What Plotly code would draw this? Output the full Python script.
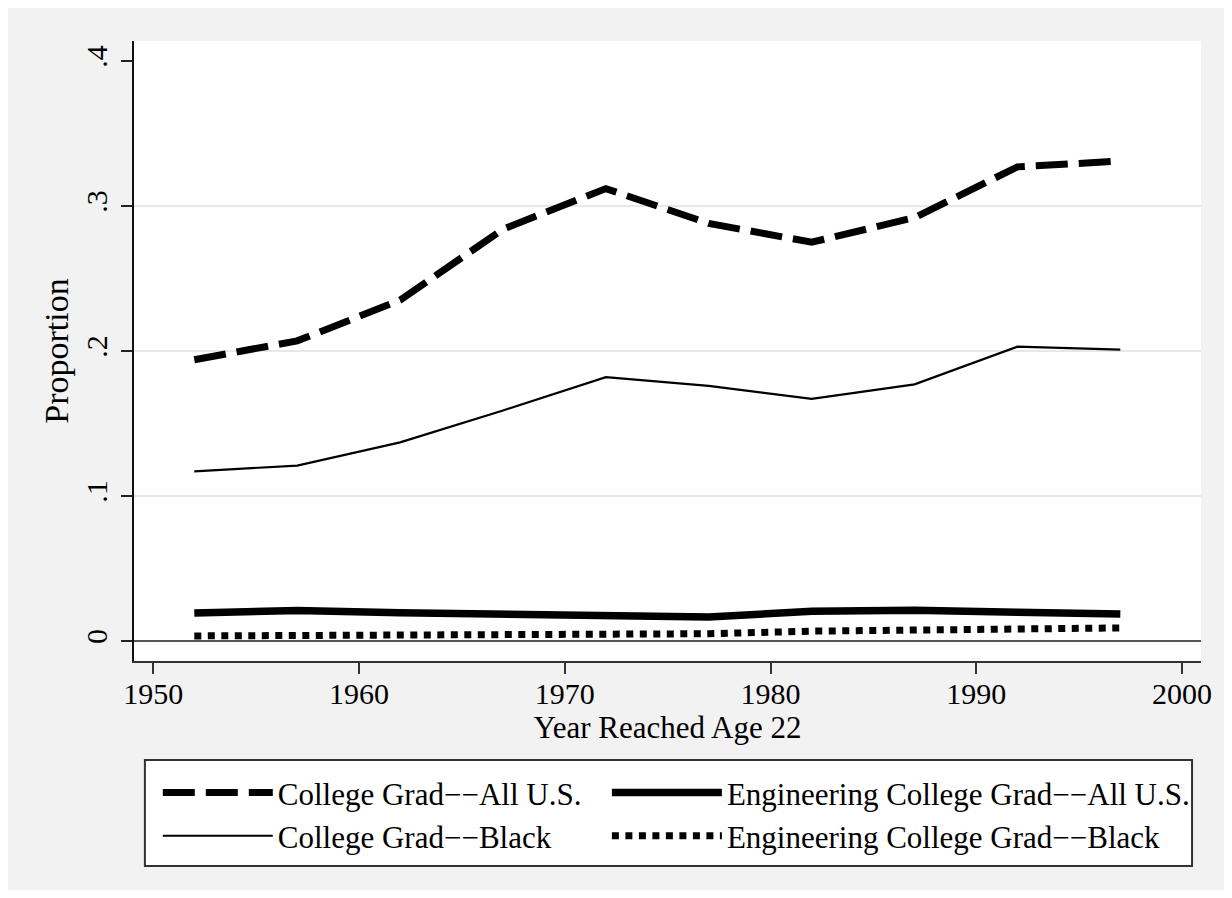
import plotly.graph_objects as go

years = [1952, 1957, 1962, 1967, 1972, 1977, 1982, 1987, 1992, 1997]
college_all = [0.194, 0.207, 0.235, 0.284, 0.312, 0.288, 0.275, 0.292, 0.327, 0.331]
college_black = [0.117, 0.121, 0.137, 0.159, 0.182, 0.176, 0.167, 0.177, 0.203, 0.201]
eng_all = [0.0193, 0.021, 0.0195, 0.0185, 0.0165, 0.0165, 0.0205, 0.0212, 0.0198, 0.0186]
eng_black = [0.0035, 0.004, 0.0035, 0.004, 0.0047, 0.005, 0.0068, 0.0075, 0.008, 0.009]

x_ticks = [1950, 1960, 1970, 1980, 1990, 2000]
y_ticks = [0, 0.1, 0.2, 0.3, 0.4]
y_ticktext = ["0", ".1", ".2", ".3", ".4"]
grid_vals = [0.1, 0.2, 0.3]

FONT = "Liberation Serif"

fig = go.Figure()
fig.add_trace(go.Scatter(x=years, y=college_all, mode="lines", name="College Grad\u2212\u2212All U.S.",
                         legend="legend",
                         line=dict(color="black", width=7, dash="32px,11px")))
fig.add_trace(go.Scatter(x=years, y=college_black, mode="lines", name="College Grad\u2212\u2212Black",
                         legend="legend",
                         line=dict(color="black", width=2.2)))
fig.add_trace(go.Scatter(x=years, y=eng_all, mode="lines", name="Engineering College Grad\u2212\u2212All U.S.",
                         legend="legend2",
                         line=dict(color="black", width=7.5)))
fig.add_trace(go.Scatter(x=years, y=eng_black, mode="lines", name="Engineering College Grad\u2212\u2212Black",
                         legend="legend2",
                         line=dict(color="black", width=7, dash="7px,6.5px")))

legend_common = dict(
    orientation="v", yanchor="top", xanchor="left",
    font=dict(family=FONT, size=31),
    bgcolor="rgba(0,0,0,0)", borderwidth=0,
    itemwidth=110, tracegroupgap=0, traceorder="normal",
)

fig.update_layout(
    width=1216, height=882,
    margin=dict(l=126, r=16, t=33, b=229),
    paper_bgcolor="#f2f2f2",
    plot_bgcolor="white",
    font=dict(family=FONT, size=30, color="black"),
    xaxis=dict(
        range=[1949.07, 2000.92], tickmode="array", tickvals=x_ticks,
        ticks="outside", ticklen=11, tickwidth=2, tickcolor="#333",
        showline=True, linecolor="#333", linewidth=2,
        showgrid=False, zeroline=False,
        tickfont=dict(family=FONT, size=30),
        ticklabelstandoff=-6,
        title=dict(text="Year Reached Age 22", font=dict(family=FONT, size=31), standoff=2),
    ),
    yaxis=dict(
        range=[-0.0138, 0.4138], tickmode="array", tickvals=y_ticks, ticktext=y_ticktext,
        tickangle=-90,
        ticks="outside", ticklen=11, tickwidth=2, tickcolor="#222",
        showline=True, linecolor="#111", linewidth=2,
        showgrid=False,
        zeroline=True, zerolinecolor="#555", zerolinewidth=2,
        minor=dict(tickmode="array", tickvals=grid_vals, showgrid=True, gridcolor="#e8e8e8", gridwidth=2, ticks=""),
        tickfont=dict(family=FONT, size=30),
        ticklabelstandoff=2,
        title=dict(text="Proportion", font=dict(family=FONT, size=34), standoff=1),
    ),
    showlegend=True,
    legend=dict(x=0.0223, y=-0.169, **legend_common),
    legend2=dict(x=0.4432, y=-0.169, **legend_common),
    shapes=[dict(type="rect", xref="paper", yref="paper",
                 x0=0.0102, x1=0.9916, y0=-0.3306, y1=-0.1597,
                 fillcolor="white", line=dict(color="#333", width=2), layer="below")],
)

fig.write_html("out.html")
